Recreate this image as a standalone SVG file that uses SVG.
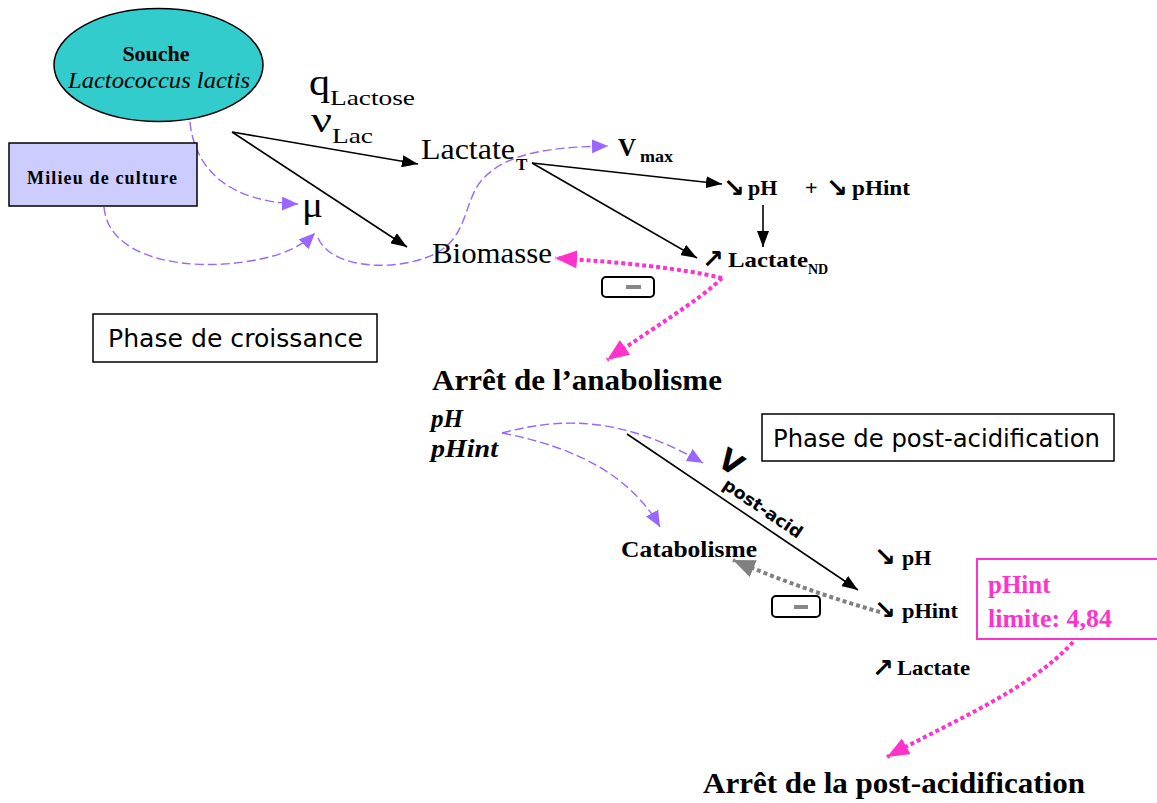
<svg xmlns="http://www.w3.org/2000/svg" width="1157" height="803" viewBox="0 0 1157 803">
  <style>
    .serif { font-family: "Liberation Serif", "Times New Roman", serif; fill: #000; }
    .b { font-weight: bold; }
    .i { font-style: italic; }
    .comic { font-family: "Comic Sans MS", "DejaVu Sans", sans-serif; fill: #000; }
    .sym { font-family: "DejaVu Sans", sans-serif; font-weight: bold; fill: #000; }
    .black { fill: none; stroke: #000; stroke-width: 1.6; }
    .purple { fill: none; stroke: #9966FF; stroke-width: 1.4; stroke-dasharray: 9 4; }
    .pink { fill: none; stroke: #FF33CC; stroke-width: 4; stroke-dasharray: 4 3; }
    .gray { fill: none; stroke: #808080; stroke-width: 4; stroke-dasharray: 4 3; }
    .minus-box { fill: #fff; stroke: #000; stroke-width: 2; }
    .minus-bar { fill: #888; }
    .phase-box { fill: #fff; stroke: #000; stroke-width: 1.5; }
    .pinktext { fill: #FF33CC; }
  </style>
  <defs>
    <marker id="ah-black" markerUnits="userSpaceOnUse" viewBox="0 0 16 12" refX="16" refY="6" markerWidth="16" markerHeight="12" orient="auto">
      <path d="M0,0 L16,6 L0,12 Z" fill="#000"/>
    </marker>
    <marker id="ah-purple" markerUnits="userSpaceOnUse" viewBox="0 0 16 14" refX="16" refY="7" markerWidth="16" markerHeight="14" orient="auto">
      <path d="M0,0 L16,7 L0,14 Z" fill="#9966FF"/>
    </marker>
    <marker id="ah-pink" markerUnits="userSpaceOnUse" viewBox="0 0 22 18" refX="22" refY="9" markerWidth="22" markerHeight="18" orient="auto">
      <path d="M0,0 L22,9 L0,18 Z" fill="#FF33CC"/>
    </marker>
    <marker id="ah-gray" markerUnits="userSpaceOnUse" viewBox="0 0 22 18" refX="22" refY="9" markerWidth="22" markerHeight="18" orient="auto">
      <path d="M0,0 L22,9 L0,18 Z" fill="#808080"/>
    </marker>
  </defs>

  <rect x="0" y="0" width="1157" height="803" fill="#fff"/>

  <!-- connectors -->
  <g id="connectors">
    <path class="black" d="M232,132 L418,164" marker-end="url(#ah-black)"/>
    <path class="black" d="M232,132 L407,247" marker-end="url(#ah-black)"/>
    <path class="black" d="M532,163 L722,184" marker-end="url(#ah-black)"/>
    <path class="black" d="M532,163 L697,258" marker-end="url(#ah-black)"/>
    <path class="black" d="M763,205 L763,247" marker-end="url(#ah-black)"/>
    <path class="black" d="M627,434 L858,590" marker-end="url(#ah-black)"/>

    <path class="purple" d="M190,122 C195,172 232,202 298,204" marker-end="url(#ah-purple)"/>
    <path class="purple" d="M104,207 C108,258 185,272 250,261 C282,256 302,246 315,233" marker-end="url(#ah-purple)"/>
    <path class="purple" d="M318,238 C330,266 385,272 425,258 C470,243 462,202 482,180 C508,150 560,147 608,146" marker-end="url(#ah-purple)"/>
    <path class="purple" d="M502,433 C565,416 625,418 703,463" marker-end="url(#ah-purple)"/>
    <path class="purple" d="M502,433 C580,448 632,478 660,527" marker-end="url(#ah-purple)"/>

    <path class="pink" d="M722,278 C680,268 620,262 555,258" marker-end="url(#ah-pink)"/>
    <path class="pink" d="M722,278 C700,300 650,330 607,360" marker-end="url(#ah-pink)"/>
    <path class="pink" d="M1073,642 C1030,690 950,722 887,757" marker-end="url(#ah-pink)"/>

    <path class="gray" d="M880,612 C830,598 780,580 733,560" marker-end="url(#ah-gray)"/>
  </g>

  <!-- strain -->
  <g id="souche">
    <ellipse cx="158.5" cy="65" rx="104.5" ry="56.5" fill="#33CCCC" stroke="#000" stroke-width="1.5"/>
    <text class="serif b" x="156" y="61" font-size="22" text-anchor="middle">Souche</text>
    <text class="serif i" x="159" y="88" font-size="23" text-anchor="middle" textLength="182" lengthAdjust="spacingAndGlyphs">Lactococcus lactis</text>
  </g>

  <!-- medium -->
  <g id="milieu">
    <rect x="9" y="143" width="188" height="63" fill="#CCCCFF" stroke="#000" stroke-width="1.5"/>
    <text class="serif b" x="102" y="184" font-size="18" text-anchor="middle" textLength="150" lengthAdjust="spacing">Milieu de culture</text>
  </g>

  <g id="mu">
    <text class="serif" x="302" y="217" font-size="36" textLength="21" lengthAdjust="spacingAndGlyphs">μ</text>
  </g>

  <g id="q-lactose">
    <text class="serif" x="309" y="95" font-size="38" textLength="21" lengthAdjust="spacingAndGlyphs">q</text>
    <text class="serif" x="330" y="105" font-size="22" textLength="85" lengthAdjust="spacingAndGlyphs">Lactose</text>
  </g>

  <g id="nu-lac">
    <text class="serif" x="311" y="132" font-size="36" textLength="21" lengthAdjust="spacingAndGlyphs">ν</text>
    <text class="serif" x="332" y="143" font-size="22" textLength="41" lengthAdjust="spacingAndGlyphs">Lac</text>
  </g>

  <g id="lactate-t">
    <text class="serif" x="421" y="159" font-size="29" textLength="94" lengthAdjust="spacingAndGlyphs">Lactate</text>
    <text class="serif b" x="516" y="170" font-size="17">T</text>
  </g>

  <g id="vmax">
    <text class="serif b" x="618" y="156" font-size="25">V</text>
    <text class="serif b" x="640" y="162" font-size="16" textLength="33" lengthAdjust="spacingAndGlyphs">max</text>
  </g>

  <g id="ph-down">
    <text class="sym" x="723" y="197" font-size="26">↘</text>
    <text class="serif b" x="748" y="195" font-size="22">pH</text>
    <text class="serif b" x="805" y="195" font-size="22">+</text>
    <text class="sym" x="826" y="197" font-size="26">↘</text>
    <text class="serif b" x="852" y="195" font-size="22" textLength="58" lengthAdjust="spacingAndGlyphs">pHint</text>
  </g>

  <g id="lactate-nd">
    <text class="sym" x="702" y="268" font-size="26">↗</text>
    <text class="serif b" x="728" y="267" font-size="22" textLength="80" lengthAdjust="spacingAndGlyphs">Lactate</text>
    <text class="serif b" x="808" y="274" font-size="14">ND</text>
  </g>

  <g id="biomasse">
    <text class="serif" x="432" y="263" font-size="29" textLength="120" lengthAdjust="spacingAndGlyphs">Biomasse</text>
  </g>

  <g id="minus-1">
    <rect class="minus-box" x="602" y="277" width="52" height="20" rx="4"/>
    <rect class="minus-bar" x="626" y="285" width="15" height="4"/>
  </g>

  <g id="phase-croissance">
    <rect class="phase-box" x="93" y="314" width="284" height="48"/>
    <text class="comic" x="108" y="347" font-size="24" textLength="255" lengthAdjust="spacingAndGlyphs">Phase de croissance</text>
  </g>

  <g id="arret-anabolisme">
    <text class="serif b" x="432" y="390" font-size="29" textLength="290" lengthAdjust="spacingAndGlyphs">Arrêt de l’anabolisme</text>
  </g>

  <g id="ph-phint">
    <text class="serif b i" x="431" y="427" font-size="25">pH</text>
    <text class="serif b i" x="431" y="457" font-size="25" textLength="67" lengthAdjust="spacingAndGlyphs">pHint</text>
  </g>

  <g id="phase-post">
    <rect class="phase-box" x="762" y="414" width="352" height="47"/>
    <text class="comic" x="773" y="447" font-size="24" textLength="327" lengthAdjust="spacingAndGlyphs">Phase de post-acidification</text>
  </g>

  <g id="v-post-acid">
    <g transform="translate(716,467) rotate(34)">
      <text class="comic b" x="-2" y="-2" font-size="30">V</text>
      <text class="comic b" x="16" y="14" font-size="17" textLength="92" lengthAdjust="spacingAndGlyphs">post-acid</text>
    </g>
  </g>

  <g id="catabolisme">
    <text class="serif b" x="621" y="557" font-size="23" textLength="136" lengthAdjust="spacingAndGlyphs">Catabolisme</text>
  </g>

  <g id="minus-2">
    <rect class="minus-box" x="772" y="596" width="48" height="21" rx="4"/>
    <rect class="minus-bar" x="794" y="605" width="14" height="4"/>
  </g>

  <g id="effets-post">
    <text class="sym" x="874" y="566" font-size="26">↘</text>
    <text class="serif b" x="902" y="565" font-size="22">pH</text>
    <text class="sym" x="874" y="619" font-size="26">↘</text>
    <text class="serif b" x="902" y="618" font-size="22" textLength="56" lengthAdjust="spacingAndGlyphs">pHint</text>
    <text class="sym" x="872" y="677" font-size="26">↗</text>
    <text class="serif b" x="897" y="675" font-size="22" textLength="73" lengthAdjust="spacingAndGlyphs">Lactate</text>
  </g>

  <g id="phint-limite">
    <rect x="977" y="559" width="182" height="80" fill="#fff" stroke="#FF33CC" stroke-width="2"/>
    <text class="serif b pinktext" x="988" y="593" font-size="25">pHint</text>
    <text class="serif b pinktext" x="988" y="627" font-size="25" textLength="124" lengthAdjust="spacingAndGlyphs">limite: 4,84</text>
  </g>

  <g id="arret-post">
    <text class="serif b" x="703" y="793" font-size="29" textLength="382" lengthAdjust="spacingAndGlyphs">Arrêt de la post-acidification</text>
  </g>
</svg>
